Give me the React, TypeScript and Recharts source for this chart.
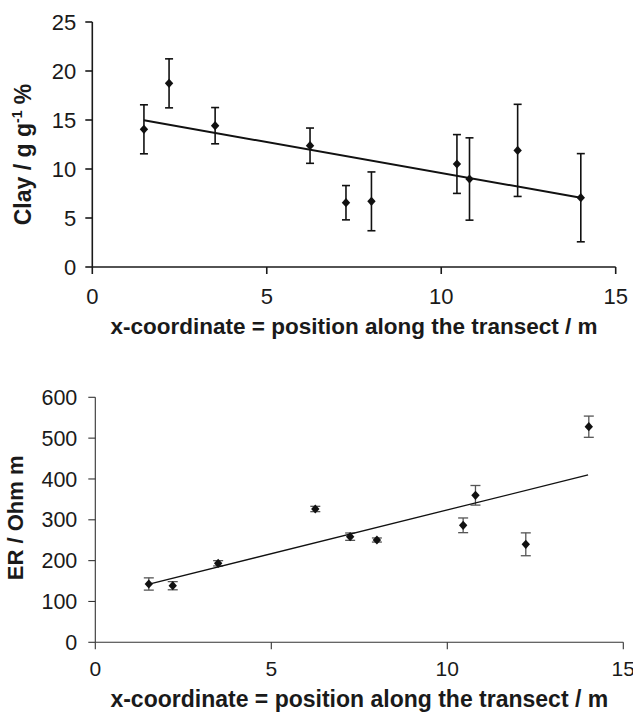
import React from 'react';
import { ScatterChart, Scatter, XAxis, YAxis, ErrorBar, Label } from 'recharts';

// ---- Clay chart data ----
const clayX = [1.48, 2.2, 3.52, 6.24, 7.27, 8.0, 10.45, 10.81, 12.19, 14.0];
const clayY = [14.05, 18.74, 14.42, 12.38, 6.56, 6.7, 10.51, 8.98, 11.9, 7.07];
const clayErr = [2.5, 2.5, 1.85, 1.8, 1.75, 3.0, 3.0, 4.2, 4.7, 4.5];
const clayTrendX = [1.48, 14.0];
const clayTrendY = [14.97, 7.07];
const clayTicksY = [0, 5, 10, 15, 20, 25];

// ---- ER chart data ----
const erX = [1.52, 2.2, 3.49, 6.25, 7.24, 8.0, 10.45, 10.8, 12.23, 14.02];
const erY = [142.8, 138.6, 193.5, 326.5, 258.7, 250.5, 286.5, 360, 240, 528];
const erErr = [15, 10, 6.5, 6.5, 9, 5, 18, 24, 28, 26];
const erTrendX = [1.5, 14.0];
const erTrendY = [142, 410];
const erTicksY = [0, 100, 200, 300, 400, 500, 600];

const xTicks = [0, 5, 10, 15];
const xTitle = 'x-coordinate = position along the transect / m';

const clayData = clayX.map((x, i) => ({ x, y: clayY[i], err: clayErr[i] }));
const clayTrend = clayTrendX.map((x, i) => ({ x, y: clayTrendY[i] }));
const erData = erX.map((x, i) => ({ x, y: erY[i], err: erErr[i] }));
const erTrend = erTrendX.map((x, i) => ({ x, y: erTrendY[i] }));

const FONT = '"Liberation Sans", Arial, Helvetica, sans-serif';
const INK = '#1a1a1a';

const Diamond = (props: any) => {
  const { cx, cy, fill } = props;
  if (cx == null || cy == null) return <g />;
  const w = 4.2;
  const h = 4.6;
  return (
    <polygon
      points={`${cx},${cy - h} ${cx + w},${cy} ${cx},${cy + h} ${cx - w},${cy}`}
      fill={fill}
    />
  );
};

const NoShape = () => <g />;

const XTitle = (props: any) => {
  const vb = props.viewBox || {};
  const x = vb.x + vb.width / 2;
  const y = vb.y + props.dyBase;
  return (
    <text x={x} y={y} textAnchor="middle" fontFamily={FONT} fontWeight="bold" fontSize={props.fs} fill={INK}>
      {xTitle}
    </text>
  );
};

const ClayTitle = (props: any) => {
  const vb = props.viewBox || {};
  const x = vb.x + 31;
  const y = vb.y + vb.height / 2 + 10;
  return (
    <text
      x={x}
      y={y}
      transform={`rotate(-90 ${x} ${y})`}
      textAnchor="middle"
      fontFamily={FONT}
      fontWeight="bold"
      fontSize={23}
      fill={INK}
    >
      Clay / g g
      <tspan dy={-9} fontSize={14}>-1</tspan>
      <tspan dy={9}> %</tspan>
    </text>
  );
};

const ERTitle = (props: any) => {
  const vb = props.viewBox || {};
  const x = vb.x + 23;
  const y = vb.y + vb.height / 2 - 2;
  return (
    <text
      x={x}
      y={y}
      transform={`rotate(-90 ${x} ${y})`}
      textAnchor="middle"
      fontFamily={FONT}
      fontWeight="bold"
      fontSize={22}
      fill={INK}
    >
      ER / Ohm m
    </text>
  );
};

export default function App() {
  return (
    <div style={{ position: 'absolute', left: 0, top: 0, width: 633, height: 715, background: '#fff', overflow: 'hidden' }}>
      <div style={{ position: 'absolute', left: 0, top: 0 }}>
        <ScatterChart width={633} height={345} margin={{ top: 22, right: 17.3, bottom: 0, left: 0 }}>
          <XAxis
            type="number"
            dataKey="x"
            domain={[0, 15]}
            ticks={xTicks}
            height={78}
            tickSize={7}
            tickMargin={14}
            axisLine={{ stroke: INK, strokeWidth: 1.6 }}
            tickLine={{ stroke: INK, strokeWidth: 1.6 }}
            tick={{ fontSize: 22, fill: INK, fontFamily: FONT }}
            interval={0}
          >
            <Label content={<XTitle dyBase={67} fs={22.5} />} />
          </XAxis>
          <YAxis
            type="number"
            dataKey="y"
            domain={[0, 25]}
            ticks={clayTicksY}
            width={92.3}
            tickSize={7}
            tickMargin={9}
            axisLine={{ stroke: INK, strokeWidth: 1.6 }}
            tickLine={{ stroke: INK, strokeWidth: 1.6 }}
            tick={{ fontSize: 22, fill: INK, fontFamily: FONT }}
            interval={0}
          >
            <Label content={<ClayTitle />} />
          </YAxis>
          <Scatter
            data={clayTrend}
            fill="none"
            shape={NoShape}
            line={{ stroke: '#111', strokeWidth: 2 }}
            isAnimationActive={false}
          />
          <Scatter data={clayData} fill="#111" shape={Diamond} isAnimationActive={false}>
            <ErrorBar dataKey="err" direction="y" width={4} stroke="#111" strokeWidth={1.6} isAnimationActive={false} />
          </Scatter>
        </ScatterChart>
      </div>
      <div style={{ position: 'absolute', left: 0, top: 360 }}>
        <ScatterChart width={633} height={355} margin={{ top: 37.3, right: 9.7, bottom: 0, left: 0 }}>
          <XAxis
            type="number"
            dataKey="x"
            domain={[0, 15]}
            ticks={xTicks}
            height={72.7}
            tickSize={7}
            tickMargin={12}
            axisLine={{ stroke: '#333', strokeWidth: 1.1 }}
            tickLine={{ stroke: '#333', strokeWidth: 1.1 }}
            tick={{ fontSize: 21, fill: INK, fontFamily: FONT }}
            interval={0}
          >
            <Label content={<XTitle dyBase={65} fs={23} />} />
          </XAxis>
          <YAxis
            type="number"
            dataKey="y"
            domain={[0, 600]}
            ticks={erTicksY}
            width={95.3}
            tickSize={7}
            tickMargin={11}
            axisLine={{ stroke: '#333', strokeWidth: 1.1 }}
            tickLine={{ stroke: '#333', strokeWidth: 1.1 }}
            tick={{ fontSize: 21.5, fill: INK, fontFamily: FONT }}
            interval={0}
          >
            <Label content={<ERTitle />} />
          </YAxis>
          <Scatter
            data={erTrend}
            fill="none"
            shape={NoShape}
            line={{ stroke: '#111', strokeWidth: 1.3 }}
            isAnimationActive={false}
          />
          <Scatter data={erData} fill="#111" shape={Diamond} isAnimationActive={false}>
            <ErrorBar dataKey="err" direction="y" width={5} stroke="#555" strokeWidth={1.3} isAnimationActive={false} />
          </Scatter>
        </ScatterChart>
      </div>
    </div>
  );
}
